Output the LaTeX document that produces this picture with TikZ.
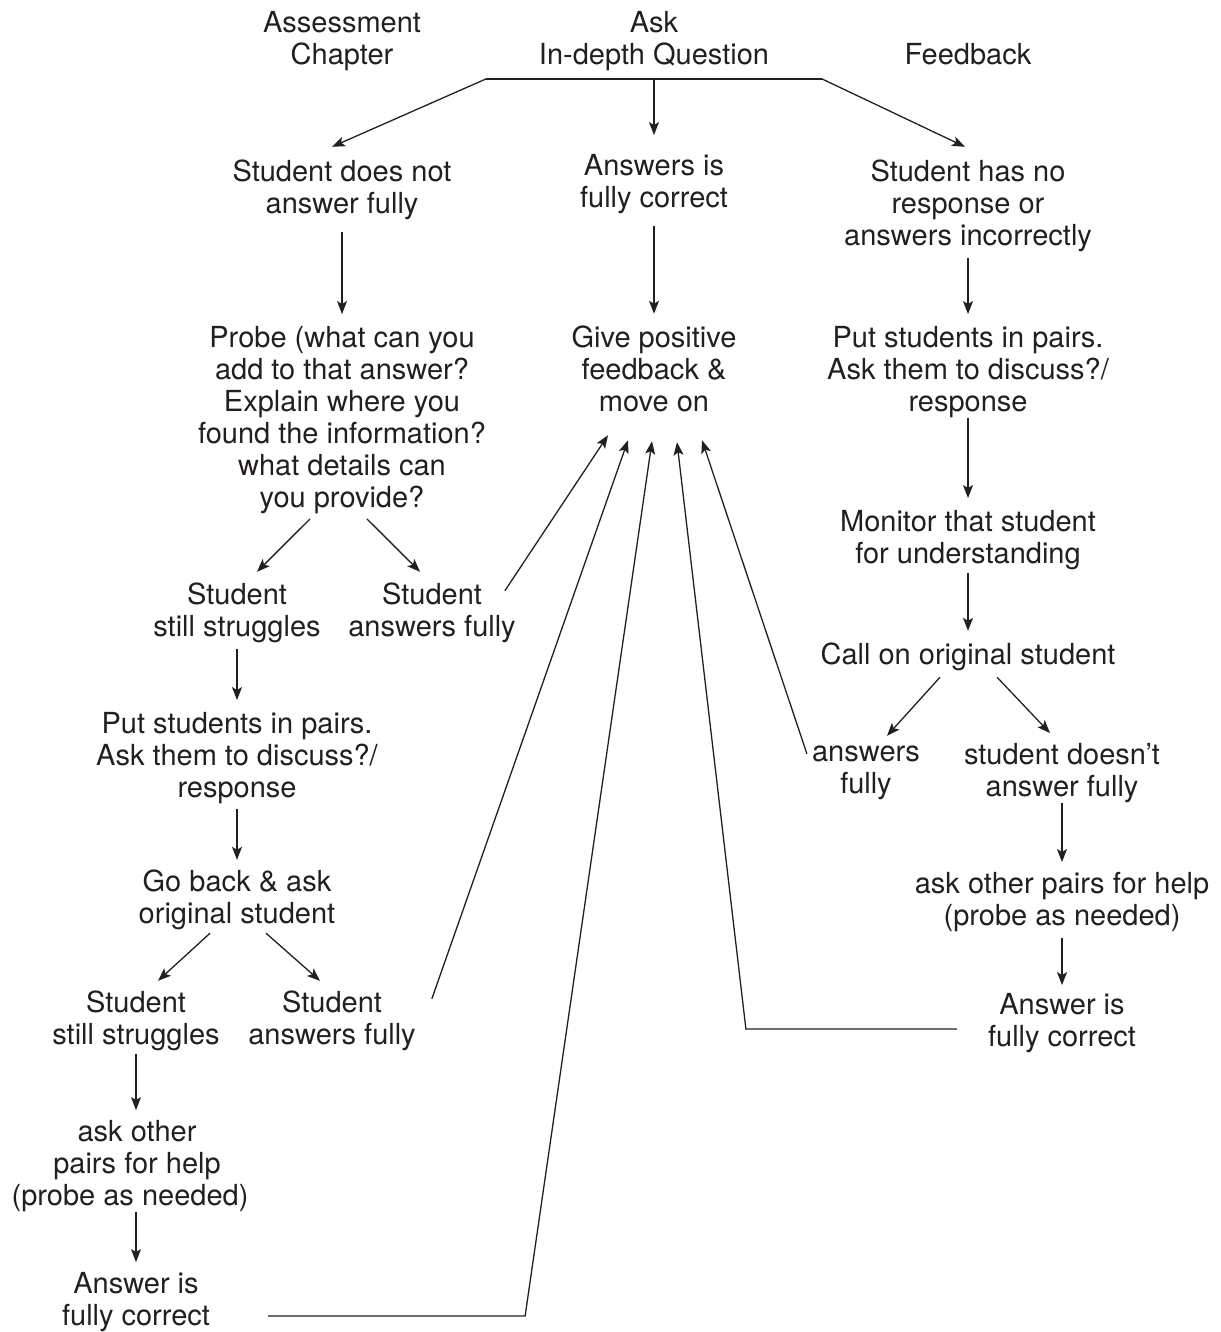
\documentclass[tikz,border=0pt]{standalone}
\usepackage{fontspec}
\setmainfont{TeX Gyre Heros}
\usetikzlibrary{arrows.meta}
\definecolor{ink}{HTML}{231F20}

\begin{document}
\begin{tikzpicture}[x=1pt, y=-1pt, color=ink,
        txt/.style={align=center, inner sep=0pt, font=\fontsize{29}{32}\selectfont},
        link/.style={line width=1.3pt},
        arr/.style={link, -{Stealth[length=13pt, width=10pt, inset=3pt]}},
        vert/.style={arr, shorten <=3pt, shorten >=12pt}]
        \useasboundingbox (0,0) rectangle (1220,1332);

        \node[txt] (chap) at (342,41) {Assessment\\Chapter};
        \node[txt] (ask) at (654,41) {Ask\\In-depth Question};
        \node[txt] (feed) at (968,54) {Feedback};

        \node[txt] (sdn) at (342,190) {Student does not\\answer fully};
        \node[txt] (afc) at (654,184) {Answers is\\fully correct};
        \node[txt] (shn) at (968,206) {Student has no\\response or\\answers incorrectly};

        \node[txt] (probe) at (342,420) {Probe (what can you\\add to that answer?\\Explain where you\\found the information?\\what details can\\you provide?};
        \node[txt] (fb) at (654,369) {Give positive\\feedback \&\\move on};
        \node[txt] (pairsR) at (968,372) {Put students in pairs.\\Ask them to discuss?/\\response};

        \node[txt] (ss1) at (237,613) {Student\\still struggles};
        \node[txt] (sa1) at (432,613) {Student\\answers fully};
        \node[txt] (mon) at (968,540) {Monitor that student\\for understanding};
        \node[txt] (call) at (968,657) {Call on original student};
        \node[txt] (af) at (866,773) {answers\\fully};
        \node[txt] (sdf) at (1062,773) {student doesn't\\answer fully};
        \node[txt] (aopR) at (1062,902) {ask other pairs for help\\(probe as needed)};
        \node[txt] (acR) at (1062,1023) {Answer is\\fully correct};

        \node[txt] (pairsL) at (237,758) {Put students in pairs.\\Ask them to discuss?/\\response};
        \node[txt] (gb) at (237,900) {Go back \& ask\\original student};
        \node[txt] (ss2) at (136,1021) {Student\\still struggles};
        \node[txt] (sa2) at (332,1021) {Student\\answers fully};
        \node[txt] (aopL) at (137,1166) {ask other\\pairs for help\\(probe as needed)\hspace*{14pt}};
        \node[txt] (acL) at (136,1302) {Answer is\\fully correct};

        % split under the question
        \coordinate (top) at ([yshift=-8pt]ask.south);
        \coordinate (topL) at ([xshift=-168pt]top);
        \coordinate (topR) at ([xshift=168pt]top);
        \draw[link] (topL) -- (topR);
        \draw[arr] (topL) -- ([xshift=-10pt,yshift=13pt]sdn.north);
        \draw[arr] (top) -- ([yshift=19pt]afc.north);
        \draw[arr] (topR) -- ([xshift=-3pt,yshift=13pt]shn.north);

        \draw[vert, shorten <=12pt] (sdn.south) -- (probe.north);
        \draw[vert, shorten <=12pt] (afc.south) -- (fb.north);
        \draw[vert, shorten <=6pt] (shn.south) -- (pairsR.north);
        \draw[vert, shorten <=0pt] (pairsR.south) -- (mon.north);
        \draw[vert] (mon.south) -- (call.north);
        \draw[vert, shorten <=6pt] (ss1.south) -- (pairsL.north);
        \draw[vert, shorten <=5pt, shorten >=10pt] (pairsL.south) -- (gb.north);
        \draw[vert, shorten >=10pt] (ss2.south) -- (ss2.south |- aopL.north);
        \draw[vert, shorten <=0pt, shorten >=10pt] (acL.north |- aopL.south) -- (acL.north);
        \draw[vert, shorten <=0pt, shorten >=10pt] (sdf.south) -- (aopR.north);
        \draw[vert, shorten <=6pt, shorten >=8pt] (aopR.south) -- (acR.north);

        \draw[arr] ([xshift=-32pt,yshift=-5pt]probe.south) -- ([xshift=20pt,yshift=11pt]ss1.north);
        \draw[arr] ([xshift=25pt,yshift=-5pt]probe.south) -- ([xshift=-12pt,yshift=11pt]sa1.north);
        \draw[arr] ([xshift=-28pt,yshift=-6pt]call.south) -- ([xshift=21pt,yshift=10pt]af.north);
        \draw[arr] ([xshift=29pt,yshift=-6pt]call.south) -- ([xshift=-12pt,yshift=10pt]sdf.north);
        \draw[arr] ([xshift=-27pt,yshift=-3pt]gb.south) -- ([xshift=22pt,yshift=10pt]ss2.north);
        \draw[arr] ([xshift=29pt,yshift=-3pt]gb.south) -- ([xshift=-12pt,yshift=10pt]sa2.north);

        % everything that ends well goes back to the feedback
        \coordinate (in1) at ([xshift=-46pt,yshift=-23pt]fb.south);
        \coordinate (in2) at ([xshift=-26pt,yshift=-28pt]fb.south);
        \coordinate (in3) at ([xshift=-2pt,yshift=-29pt]fb.south);
        \coordinate (in4) at ([xshift=23pt,yshift=-30pt]fb.south);
        \coordinate (in5) at ([xshift=48pt,yshift=-28pt]fb.south);
        \draw[arr] ([xshift=-11pt,yshift=-8pt]sa1.north east) -- (in1);
        \draw[arr] ([xshift=16pt,yshift=-8pt]sa2.north east) -- (in2);
        \draw[arr] ([xshift=58pt,yshift=-14pt]acL.east) -- ++(257,0) -- (in3);
        \draw[arr] ([xshift=-31pt,yshift=-6pt]acR.west) -- ++(-211,0) -- (in4);
        \draw[arr] ([xshift=-5pt,yshift=-8pt]af.north west) -- (in5);
    \end{tikzpicture}
\end{document}
